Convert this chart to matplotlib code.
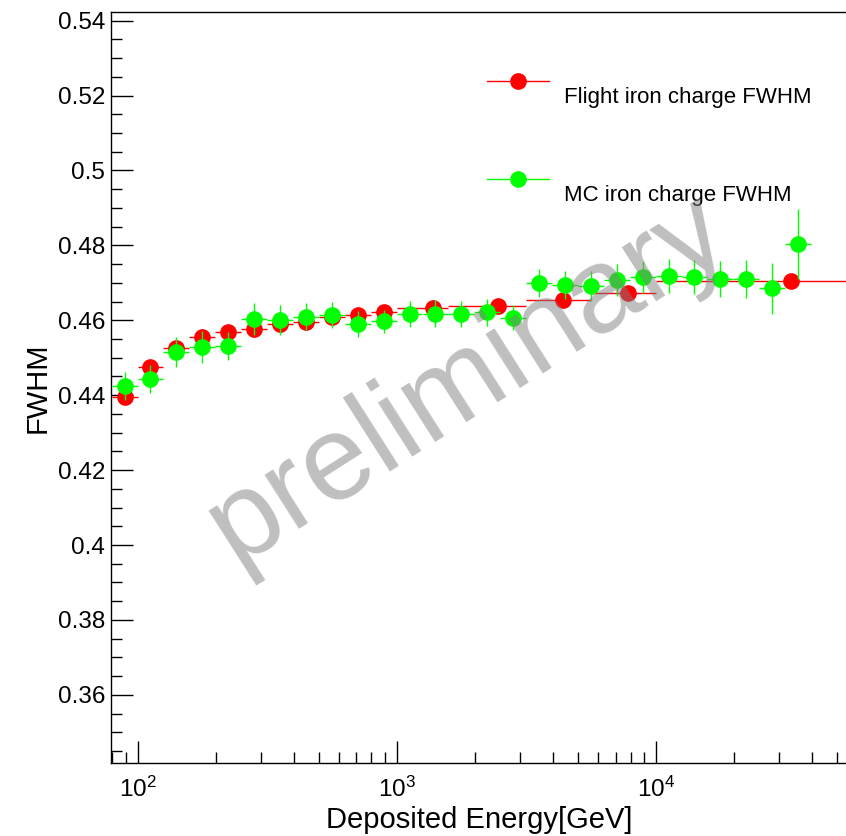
import numpy as np
import matplotlib
matplotlib.use('Agg')
import matplotlib.pyplot as plt
from matplotlib.lines import Line2D
from matplotlib.ticker import MultipleLocator, FuncFormatter, LogLocator

plt.rcParams['font.family'] = ['Liberation Sans', 'DejaVu Sans']
plt.rcParams['mathtext.fontset'] = 'custom'
plt.rcParams['mathtext.rm'] = 'Liberation Sans'
plt.rcParams['mathtext.it'] = 'Liberation Sans:italic'
plt.rcParams['mathtext.bf'] = 'Liberation Sans:bold'

# MC iron: 0.1-decade bins from 10^1.9 to 10^4.6
mc_energy = [89.1, 112.2, 141.3, 177.8, 223.9, 281.8, 354.8, 446.7, 562.3,
             707.9, 891.3, 1122, 1413, 1778, 2239, 2818, 3548, 4467, 5623,
             7079, 8913, 11220, 14125, 17783, 22387, 28184, 35481]
mc_fwhm = [0.4425, 0.4443, 0.4516, 0.4528, 0.4531, 0.4603, 0.4601, 0.4610,
           0.4614, 0.4590, 0.4597, 0.4617, 0.4618, 0.4617, 0.4621, 0.4607,
           0.4700, 0.4695, 0.4692, 0.4707, 0.4715, 0.4719, 0.4715, 0.4710,
           0.4710, 0.4685, 0.4804]
mc_err = [0.0037, 0.0037, 0.0040, 0.0043, 0.0037, 0.0043, 0.0040, 0.0037,
          0.0035, 0.0035, 0.0030, 0.0035, 0.0035, 0.0035, 0.0035, 0.0033,
          0.0037, 0.0037, 0.0040, 0.0043, 0.0043, 0.0045, 0.0045, 0.0047,
          0.0051, 0.0067, 0.0093]
mc_halfbin = 0.05  # decades

# Flight iron
fl_energy = [89.1, 112.2, 141.3, 177.8, 223.9, 281.8, 354.8, 446.7, 562.3,
             707.9, 891.3, 1380, 2460, 4390, 7830, 33200]
fl_lo = [79.4, 100, 125.9, 158.5, 199.5, 251.2, 316.2, 398.1, 501.2,
         631.0, 794.3, 1000, 1580, 3160, 5620, 10000]
fl_hi = [100, 125.9, 158.5, 199.5, 251.2, 316.2, 398.1, 501.2, 631.0,
         794.3, 1000, 1580, 3160, 5620, 10000, 100000]
fl_fwhm = [0.4396, 0.4476, 0.4525, 0.4555, 0.4570, 0.4577, 0.4589, 0.4596,
           0.4608, 0.4615, 0.4623, 0.4634, 0.4639, 0.4655, 0.4672, 0.4705]
fl_err = [0.0008] * 16

RED = '#ff0000'
GREEN = '#00ff00'

W, H = 846, 836
fig = plt.figure(figsize=(W / 100, H / 100), dpi=100)

left_px, right_px, top_px, bot_px = 110.6, 857.2, 12, 763
ax = fig.add_axes([left_px / W, 1 - bot_px / H,
                   (right_px - left_px) / W, (bot_px - top_px) / H])

fe = np.array(fl_energy)
ax.errorbar(fe, fl_fwhm, xerr=[fe - np.array(fl_lo), np.array(fl_hi) - fe],
            yerr=fl_err, fmt='o', color=RED, ms=11, mec=RED,
            elinewidth=1.0, capsize=0, zorder=3)

me = np.array(mc_energy)
ax.errorbar(me, mc_fwhm,
            xerr=[me - me / 10 ** mc_halfbin, me * 10 ** mc_halfbin - me],
            yerr=mc_err, fmt='o', color=GREEN, ms=11, mec=GREEN,
            elinewidth=1.0, capsize=0, zorder=4)

ax.set_xscale('log')
ax.set_xlim(78.7, 6.0e4)
ax.set_ylim(0.3418, 0.5423)

ax.yaxis.set_major_locator(MultipleLocator(0.02))
ax.yaxis.set_minor_locator(MultipleLocator(0.005))
ax.yaxis.set_major_formatter(FuncFormatter(lambda v, p: '%g' % round(v, 4)))
ax.xaxis.set_minor_locator(LogLocator(base=10, subs=np.arange(2, 10)))

ax.tick_params(which='both', direction='in', top=False, right=False,
               width=1.0, labelsize=17.5)
ax.tick_params(which='major', length=15.8)
ax.tick_params(which='minor', length=7.9)
ax.tick_params(axis='x', pad=10)
ax.tick_params(axis='y', pad=4)
for s in ax.spines.values():
    s.set_linewidth(1.0)

fig.text(479.5 / W, 1 - 828 / H, 'Deposited Energy[GeV]', fontsize=21,
         ha='center', va='baseline')
fig.text(37.5 / W, 1 - 387.5 / H, 'FWHM', fontsize=21, rotation=90,
         ha='center', va='center')

# legend
for y_px, col, label, base_px in [(80.7, RED, 'Flight iron charge FWHM', 103.3),
                                  (179, GREEN, 'MC iron charge FWHM', 200.7)]:
    yf = 1 - y_px / H
    fig.add_artist(Line2D([486.7 / W, 549.3 / W], [yf, yf], color=col, lw=1.0))
    fig.add_artist(Line2D([518 / W], [yf], marker='o', ms=11, color=col,
                          mec=col, lw=0))
    fig.text(563.5 / W, 1 - base_px / H, label, fontsize=16, ha='left',
             va='baseline')

# watermark
fig.text(468 / W, 1 - 380 / H, 'preliminary', fontsize=87, rotation=32.5,
         color='#808080', alpha=0.5, ha='center', va='center',
         rotation_mode='anchor', zorder=10)

fig.savefig('out.png', dpi=100)
